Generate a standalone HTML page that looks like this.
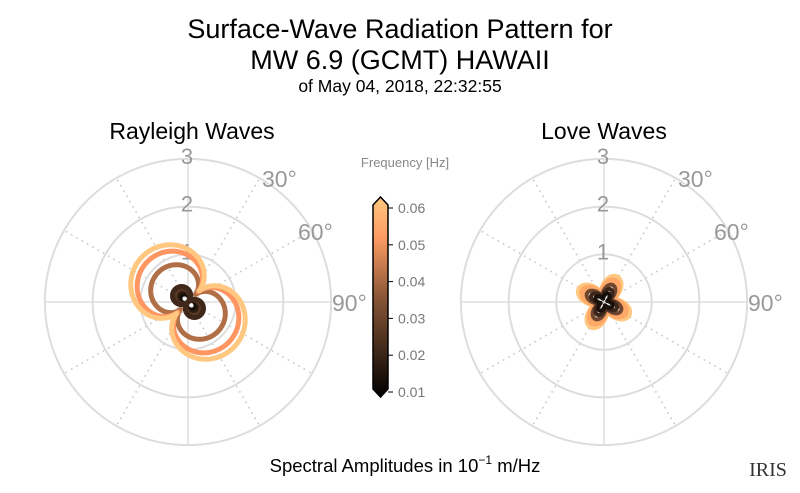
<!DOCTYPE html>
<html><head><meta charset="utf-8"><style>
body{margin:0;background:#fff;}
svg{display:block;font-family:"Liberation Sans",sans-serif;}
</style></head><body>
<svg id="s" width="800" height="493" viewBox="0 0 800 493">
<defs><linearGradient id="cm" x1="0" y1="1" x2="0" y2="0">
<stop offset="0" stop-color="#000"/><stop offset="0.5" stop-color="#8a5737"/><stop offset="0.8" stop-color="#ff9c63"/><stop offset="1" stop-color="#ffc77f"/></linearGradient></defs>
<text x="400" y="38" font-size="27" text-anchor="middle" fill="#000">Surface-Wave Radiation Pattern for</text>
<text x="400" y="69" font-size="27" text-anchor="middle" fill="#000">MW 6.9 (GCMT) HAWAII</text>
<text x="400" y="92" font-size="17.5" text-anchor="middle" fill="#000">of May 04, 2018, 22:32:55</text>
<text x="192" y="139" font-size="23" text-anchor="middle">Rayleigh Waves</text>
<text x="604" y="139" font-size="23" text-anchor="middle">Love Waves</text>
<text x="405" y="167" font-size="13" text-anchor="middle" fill="#888">Frequency [Hz]</text>
<polygon points="373,205 380.5,197 388,205 388,389 380.5,397 373,389" fill="url(#cm)" stroke="#000" stroke-width="1.5"/>
<text x="405" y="472" font-size="18.5" text-anchor="middle">Spectral Amplitudes in 10<tspan font-size="12" dy="-8">−1</tspan><tspan dy="8"> m/Hz</tspan></text>
<text x="768" y="476" font-size="20" font-family="Liberation Serif,serif" text-anchor="middle" fill="#333">IRIS</text>
<g id="g"></g>
</svg>
<script>
var g=document.getElementById('g'),NS='http://www.w3.org/2000/svg',s=document.getElementById('s');
function el(t,a,p){var e=document.createElementNS(NS,t);for(var k in a)e.setAttribute(k,a[k]);(p||g).appendChild(e);return e;}
var U=47.7;
var labs=['0.06','0.05','0.04','0.03','0.02','0.01'];
for(var i=0;i<6;i++){var y=208+i*36.8;el('line',{x1:388,x2:393,y1:y,y2:y,stroke:'#000'},s);var t=el('text',{x:398,y:y+5,'font-size':14,fill:'#777'},s);t.textContent=labs[i];}
function polar(cx,cy){
 for(var a=0;a<360;a+=30){var r=a*Math.PI/180;var main=a%90==0;
  el('line',{x1:cx,y1:cy,x2:cx+143*Math.sin(r),y2:cy-143*Math.cos(r),stroke:main?'#ddd':'#ccc','stroke-width':main?1.5:1.8,'stroke-dasharray':main?'':'0.1 6','stroke-linecap':'round'});}
 for(var k=1;k<=3;k++)el('circle',{cx:cx,cy:cy,r:k*U,fill:'none',stroke:'#ddd','stroke-width':2});
 var lb=[['1',cx-1,cy-U+5],['2',cx-1,cy-2*U+5],['3',cx-1,cy-3*U+5]];
 lb.forEach(function(l){var t=el('text',{x:l[1],y:l[2],'font-size':22,fill:'#999','text-anchor':'middle'});t.textContent=l[0];});
 var al=[['30°',cx+74,cy-115],['60°',cx+110,cy-62],['90°',cx+144,cy+9]];
 al.forEach(function(l){var t=el('text',{x:l[1],y:l[2],'font-size':23,fill:'#999'});t.textContent=l[0];});
}
polar(188,302);polar(604,302);
function curve(cx,cy,f,A,col,w){var d='';for(var i=0;i<=360;i++){var th=i*Math.PI/180;var r=A*U*f(th);d+=(i?'L':'M')+(cx+r*Math.sin(th)).toFixed(2)+','+(cy-r*Math.cos(th)).toFixed(2);}
 el('path',{d:d+'Z',fill:'none',stroke:col,'stroke-width':w,'stroke-linejoin':'round'});}
var ph=135*Math.PI/180;
function rayBig(th){var c=Math.abs(Math.cos(th-ph));return 0.25+0.75*Math.pow(c,0.8);}
function raySmall(th){return Math.abs(Math.cos(th-ph));}
var R=[[0.2,'#140d08',0],[0.27,'#2e1d12',0],[0.33,'#5a3a25',0],[0.38,'#3f281a',0],[0.88,'#b06f46',1],[1.2,'#ff9561',1],[1.35,'#ffc77f',1]];
R.forEach(function(c){curve(188,302,c[2]?rayBig:raySmall,c[0],c[1],5);});
function love(th){return 0.35+0.65*Math.pow(Math.abs(Math.sin(2*(th+0.3))),1.5);}
var L=[[0.2,'#1a100a'],[0.3,'#3c261a'],[0.4,'#6e4630'],[0.5,'#ffa868'],[0.58,'#ffc77f']];
L.slice().reverse().forEach(function(c,i){curve(604,302,love,c[0],c[1],i<2?6:4);});
</script>
</body></html>
